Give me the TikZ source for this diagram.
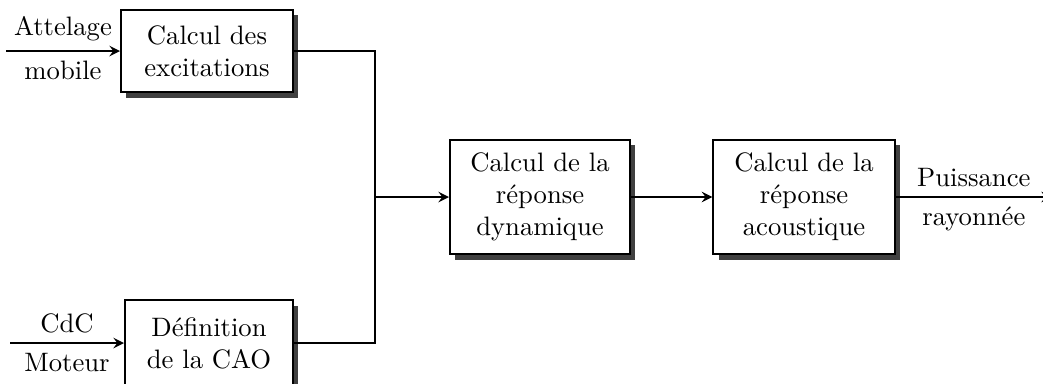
\documentclass[tikz,border=0pt]{standalone}
\usepackage{tikz}
\usetikzlibrary{shadows}

\begin{document}
\begin{tikzpicture}[x=0.375pt, y=-0.375pt, >=stealth, line width=0.75pt,
    bloc/.style={draw, fill=white, align=center, inner sep=0pt,
        drop shadow={shadow xshift=2pt, shadow yshift=-2pt, fill=black!75, opacity=1}}]
                \useasboundingbox (0,0) rectangle (1043,383);
                % blocs
                \node[bloc, minimum width=64.5pt, minimum height=31pt] (exc) at (207,51) {Calcul des\\excitations};
                \node[bloc, minimum width=63pt, minimum height=32pt] (cao) at (209,343) {D\'efinition\\de la CAO};
                \node[bloc, minimum width=67.5pt, minimum height=43pt] (dyn) at (540,197) {Calcul de la\\r\'eponse\\dynamique};
                \node[bloc, minimum width=68pt, minimum height=43pt] (aco) at (804,197) {Calcul de la\\r\'eponse\\acoustique};
                \coordinate (in1) at (6,51);
                \coordinate (in2) at (10,343);
                \coordinate (j) at (375,197);
                \coordinate (out) at (1052,197);
                % liaisons
                \draw[->] (in1) -- node[above] (att) {Attelage} node[below] (mob) {mobile} (exc.west);
                \draw[->] (in2) -- node[above] (cdc) {CdC} node[below] (mot) {Moteur} (cao.west);
                \draw (exc.east) -| (j);
                \draw (cao.east) -| (j);
                \draw[->] (j) -- (dyn.west);
                \draw[->] (dyn.east) -- (aco.west);
                \draw[->] (aco.east) -- node[above] (pui) {Puissance} node[below] (ray) {rayonn\'ee} (out);
            \end{tikzpicture}
\end{document}
